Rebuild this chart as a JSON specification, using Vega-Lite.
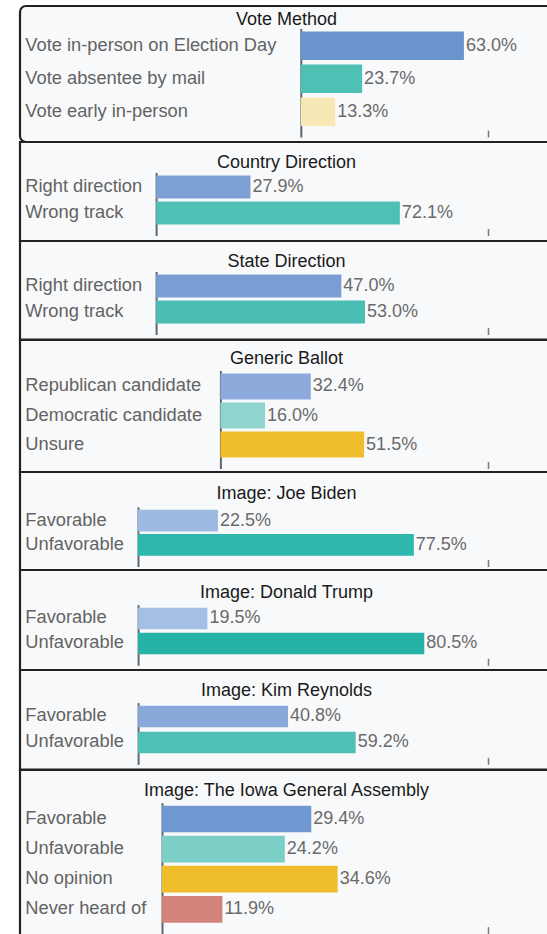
{
  "$schema": "https://vega.github.io/schema/vega-lite/v6.json",
  "background": "white",
  "padding": {"left": 18, "top": 4, "right": 0, "bottom": 0},
  "spacing": 0,
  "bounds": "flush",
  "data": {"values": [
    {"panel": "Vote Method", "opt": "Vote in-person on Election Day", "pct": 0.630},
    {"panel": "Vote Method", "opt": "Vote absentee by mail", "pct": 0.237},
    {"panel": "Vote Method", "opt": "Vote early in-person", "pct": 0.133},
    {"panel": "Country Direction", "opt": "Right direction", "pct": 0.279},
    {"panel": "Country Direction", "opt": "Wrong track", "pct": 0.721},
    {"panel": "State Direction", "opt": "Right direction", "pct": 0.470},
    {"panel": "State Direction", "opt": "Wrong track", "pct": 0.530},
    {"panel": "Generic Ballot", "opt": "Republican candidate", "pct": 0.324},
    {"panel": "Generic Ballot", "opt": "Democratic candidate", "pct": 0.160},
    {"panel": "Generic Ballot", "opt": "Unsure", "pct": 0.515},
    {"panel": "Image: Joe Biden", "opt": "Favorable", "pct": 0.225},
    {"panel": "Image: Joe Biden", "opt": "Unfavorable", "pct": 0.775},
    {"panel": "Image: Donald Trump", "opt": "Favorable", "pct": 0.195},
    {"panel": "Image: Donald Trump", "opt": "Unfavorable", "pct": 0.805},
    {"panel": "Image: Kim Reynolds", "opt": "Favorable", "pct": 0.408},
    {"panel": "Image: Kim Reynolds", "opt": "Unfavorable", "pct": 0.592},
    {"panel": "Image: The Iowa General Assembly", "opt": "Favorable", "pct": 0.294},
    {"panel": "Image: The Iowa General Assembly", "opt": "Unfavorable", "pct": 0.242},
    {"panel": "Image: The Iowa General Assembly", "opt": "No opinion", "pct": 0.346},
    {"panel": "Image: The Iowa General Assembly", "opt": "Never heard of", "pct": 0.119}
  ]},
  "resolve": {"scale": {"x": "independent", "y": "independent", "color": "independent"}, "axis": {"x": "independent", "y": "independent"}},
  "vconcat": [
    {
      "title": {"text": "Vote Method", "offset": -22.5},
      "width": 533, "height": 136,
      "view": {"cornerRadius": 6},
      "transform": [{"filter": "datum.panel === 'Vote Method'"}],
      "encoding": {
        "y": {"field": "opt", "type": "nominal", "sort": null, "title": null,
          "scale": {"range": [22.5, 131], "paddingInner": 0.136, "paddingOuter": 0.212, "align": 0.214},
          "axis": {"offset": -280.8, "labelPadding": 276}},
        "x": {"field": "pct", "type": "quantitative", "title": null,
          "scale": {"domain": [-1.084, 0.974], "nice": false, "zero": false},
          "axis": {"values": [0.723], "offset": -12}}
      },
      "layer": [
        {"mark": {"type": "bar"}, "encoding": {"color": {"field": "opt", "type": "nominal", "legend": null,
          "scale": {"domain": ["Vote in-person on Election Day", "Vote absentee by mail", "Vote early in-person"], "range": ["#6b94cd", "#4fc0b4", "#f7e8b5"]}}}},
        {"mark": {"type": "text", "align": "left", "baseline": "middle", "dx": 2}, "encoding": {"text": {"field": "pct", "type": "quantitative", "format": ".1%"}}}
      ]
    },
    {
      "title": {"text": "Country Direction", "offset": -29.5},
      "width": 533, "height": 99,
      "transform": [{"filter": "datum.panel === 'Country Direction'"}],
      "encoding": {
        "y": {"field": "opt", "type": "nominal", "sort": null, "title": null,
          "scale": {"range": [30.5, 93.5], "paddingInner": 0.115, "paddingOuter": 0.269, "align": 0.214},
          "axis": {"offset": -136.1, "labelPadding": 131.3}},
        "x": {"field": "pct", "type": "quantitative", "title": null,
          "scale": {"domain": [-0.4027, 1.174], "nice": false, "zero": false},
          "axis": {"values": [0.982], "offset": -12.5}}
      },
      "layer": [
        {"mark": {"type": "bar"}, "encoding": {"color": {"field": "opt", "type": "nominal", "legend": null,
          "scale": {"domain": ["Right direction", "Wrong track"], "range": ["#7c9fd4", "#4fc0b4"]}}}},
        {"mark": {"type": "text", "align": "left", "baseline": "middle", "dx": 2}, "encoding": {"text": {"field": "pct", "type": "quantitative", "format": ".1%"}}}
      ]
    },
    {
      "title": {"text": "State Direction", "offset": -29.5},
      "width": 533, "height": 98.5,
      "transform": [{"filter": "datum.panel === 'State Direction'"}],
      "encoding": {
        "y": {"field": "opt", "type": "nominal", "sort": null, "title": null,
          "scale": {"range": [30.5, 93.5], "paddingInner": 0.115, "paddingOuter": 0.269, "align": 0.214},
          "axis": {"offset": -136.1, "labelPadding": 131.3}},
        "x": {"field": "pct", "type": "quantitative", "title": null,
          "scale": {"domain": [-0.3454, 1.007], "nice": false, "zero": false},
          "axis": {"values": [0.8424], "offset": -12}}
      },
      "layer": [
        {"mark": {"type": "bar"}, "encoding": {"color": {"field": "opt", "type": "nominal", "legend": null,
          "scale": {"domain": ["Right direction", "Wrong track"], "range": ["#7a9dd3", "#4abeb3"]}}}},
        {"mark": {"type": "text", "align": "left", "baseline": "middle", "dx": 2}, "encoding": {"text": {"field": "pct", "type": "quantitative", "format": ".1%"}}}
      ]
    },
    {
      "title": {"text": "Generic Ballot", "offset": -28},
      "width": 533, "height": 132,
      "transform": [{"filter": "datum.panel === 'Generic Ballot'"}],
      "encoding": {
        "y": {"field": "opt", "type": "nominal", "sort": null, "title": null,
          "scale": {"range": [30.5, 128.5], "paddingInner": 0.103, "paddingOuter": 0.241, "align": 0.214},
          "axis": {"offset": -200.4, "labelPadding": 195.6}},
        "x": {"field": "pct", "type": "quantitative", "title": null,
          "scale": {"domain": [-0.7183, 1.192], "nice": false, "zero": false},
          "axis": {"values": [0.959], "offset": -10.5}}
      },
      "layer": [
        {"mark": {"type": "bar"}, "encoding": {"color": {"field": "opt", "type": "nominal", "legend": null,
          "scale": {"domain": ["Republican candidate", "Democratic candidate", "Unsure"], "range": ["#8eaadc", "#8fd5cd", "#f0bd2c"]}}}},
        {"mark": {"type": "text", "align": "left", "baseline": "middle", "dx": 2}, "encoding": {"text": {"field": "pct", "type": "quantitative", "format": ".1%"}}}
      ]
    },
    {
      "title": {"text": "Image: Joe Biden", "offset": -31},
      "width": 533, "height": 98,
      "transform": [{"filter": "datum.panel === 'Image: Joe Biden'"}],
      "encoding": {
        "y": {"field": "opt", "type": "nominal", "sort": null, "title": null,
          "scale": {"range": [34.85, 94.5], "paddingInner": 0.103, "paddingOuter": 0.284, "align": 0.218},
          "axis": {"offset": -118, "labelPadding": 113.2}},
        "x": {"field": "pct", "type": "quantitative", "title": null,
          "scale": {"domain": [-0.3315, 1.166], "nice": false, "zero": false},
          "axis": {"values": [0.983], "offset": -10.5}}
      },
      "layer": [
        {"mark": {"type": "bar"}, "encoding": {"color": {"field": "opt", "type": "nominal", "legend": null,
          "scale": {"domain": ["Favorable", "Unfavorable"], "range": ["#9dbbe2", "#2db7ad"]}}}},
        {"mark": {"type": "text", "align": "left", "baseline": "middle", "dx": 2}, "encoding": {"text": {"field": "pct", "type": "quantitative", "format": ".1%"}}}
      ]
    },
    {
      "title": {"text": "Image: Donald Trump", "offset": -32},
      "width": 533, "height": 100,
      "transform": [{"filter": "datum.panel === 'Image: Donald Trump'"}],
      "encoding": {
        "y": {"field": "opt", "type": "nominal", "sort": null, "title": null,
          "scale": {"range": [34.65, 95.35], "paddingInner": 0.132, "paddingOuter": 0.28, "align": 0.214},
          "axis": {"offset": -118.1, "labelPadding": 113.3}},
        "x": {"field": "pct", "type": "quantitative", "title": null,
          "scale": {"domain": [-0.3321, 1.167], "nice": false, "zero": false},
          "axis": {"values": [0.984], "offset": -11.65}}
      },
      "layer": [
        {"mark": {"type": "bar"}, "encoding": {"color": {"field": "opt", "type": "nominal", "legend": null,
          "scale": {"domain": ["Favorable", "Unfavorable"], "range": ["#a4bfe3", "#27b2a8"]}}}},
        {"mark": {"type": "text", "align": "left", "baseline": "middle", "dx": 2}, "encoding": {"text": {"field": "pct", "type": "quantitative", "format": ".1%"}}}
      ]
    },
    {
      "title": {"text": "Image: Kim Reynolds", "offset": -30},
      "width": 533, "height": 99.5,
      "transform": [{"filter": "datum.panel === 'Image: Kim Reynolds'"}],
      "encoding": {
        "y": {"field": "opt", "type": "nominal", "sort": null, "title": null,
          "scale": {"range": [32.65, 94.35], "paddingInner": 0.165, "paddingOuter": 0.269, "align": 0.214},
          "axis": {"offset": -118.1, "labelPadding": 113.3}},
        "x": {"field": "pct", "type": "quantitative", "title": null,
          "scale": {"domain": [-0.3214, 1.129], "nice": false, "zero": false},
          "axis": {"values": [0.952], "offset": -12.15}}
      },
      "layer": [
        {"mark": {"type": "bar"}, "encoding": {"color": {"field": "opt", "type": "nominal", "legend": null,
          "scale": {"domain": ["Favorable", "Unfavorable"], "range": ["#88a8da", "#4ec0b5"]}}}},
        {"mark": {"type": "text", "align": "left", "baseline": "middle", "dx": 2}, "encoding": {"text": {"field": "pct", "type": "quantitative", "format": ".1%"}}}
      ]
    },
    {
      "title": {"text": "Image: The Iowa General Assembly", "offset": -29.5},
      "width": 533, "height": 168,
      "transform": [{"filter": "datum.panel === 'Image: The Iowa General Assembly'"}],
      "encoding": {
        "y": {"field": "opt", "type": "nominal", "sort": null, "title": null,
          "scale": {"range": [32.65, 163.65], "paddingInner": 0.113, "paddingOuter": 0.233, "align": 0.214},
          "axis": {"offset": -142, "labelPadding": 137.2}},
        "x": {"field": "pct", "type": "quantitative", "title": null,
          "scale": {"domain": [-0.2795, 0.770], "nice": false, "zero": false},
          "axis": {"values": [0.642], "offset": -11.35}}
      },
      "layer": [
        {"mark": {"type": "bar"}, "encoding": {"color": {"field": "opt", "type": "nominal", "legend": null,
          "scale": {"domain": ["Favorable", "Unfavorable", "No opinion", "Never heard of"], "range": ["#7199d1", "#7ccfc6", "#efbd2b", "#d4827c"]}}}},
        {"mark": {"type": "text", "align": "left", "baseline": "middle", "dx": 2}, "encoding": {"text": {"field": "pct", "type": "quantitative", "format": ".1%"}}}
      ]
    }
  ],
  "config": {
    "view": {"stroke": "#222222", "strokeWidth": 2.2, "fill": "#f8f9fa"},
    "concat": {"spacing": 0},
    "axis": {"grid": false, "labelFont": "Liberation Sans", "minExtent": 0},
    "axisY": {"ticks": false, "tickSize": 0, "labelAlign": "left", "labelBaseline": "middle", "labelFontSize": 18.3, "labelColor": "#636363", "labelLimit": 600, "labelOverlap": false, "domainColor": "#5f6670", "domainWidth": 2, "minExtent": 0},
    "axisX": {"domain": false, "labels": false, "ticks": true, "tickSize": 7, "tickColor": "#7a7a7a", "tickWidth": 1.5, "minExtent": 0},
    "title": {"font": "Liberation Sans", "fontSize": 18, "fontWeight": "normal", "color": "#1a1a1a", "anchor": "middle", "frame": "group", "baseline": "alphabetic"},
    "text": {"font": "Liberation Sans", "fontSize": 18, "color": "#6a6a6a"}
  }
}
